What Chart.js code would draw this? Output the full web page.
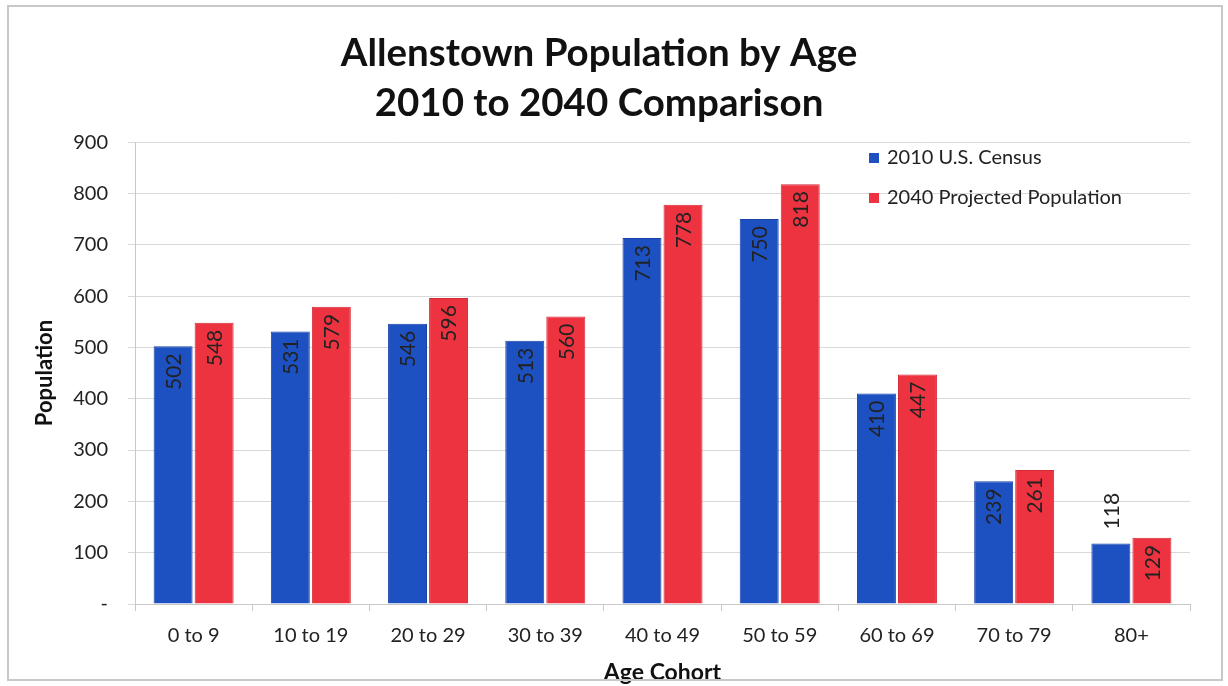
<!DOCTYPE html>
<html>
<head>
<meta charset="utf-8">
<script src="https://cdn.jsdelivr.net/npm/chart.js@4/dist/chart.umd.min.js"></script>
<style>
  html, body { margin: 0; padding: 0; background: #fff; }
  #wrap { position: relative; width: 1228px; height: 686px; }
  #frame { position: absolute; left: 7px; top: 5px; width: 1216px; height: 676px;
           border: 2px solid #c8c8c8; box-sizing: border-box; pointer-events: none; }
</style>
</head>
<body>
<div id="wrap">
  <canvas id="chart_age" width="1228" height="686"></canvas>
  <div id="frame"></div>
</div>
<script>
var ageCohorts = ["0 to 9", "10 to 19", "20 to 29", "30 to 39", "40 to 49", "50 to 59", "60 to 69", "70 to 79", "80+"];
var census2010 = [502, 531, 546, 513, 713, 750, 410, 239, 118];
var projected2040 = [548, 579, 596, 560, 778, 818, 447, 261, 129];
var seriesNames = ["2010 U.S. Census", "2040 Projected Population"];

var FONT = "Lato, 'Open Sans', sans-serif";

// value labels, rotated, sitting at the top of each bar (above it if the bar is too short)
const barValueLabels = {
  id: 'barValueLabels',
  afterDatasetsDraw(chart) {
    const ctx = chart.ctx;
    ctx.save();
    ctx.font = "21px " + FONT;
    ctx.fillStyle = '#222';
    ctx.textBaseline = 'middle';
    chart.data.datasets.forEach((ds, i) => {
      chart.getDatasetMeta(i).data.forEach((bar, j) => {
        const txt = String(ds.data[j]);
        const w = ctx.measureText(txt).width;
        const h = bar.base - bar.y;
        ctx.save();
        if (h < w + 26) {
          ctx.translate(bar.x, bar.y - 14);
          ctx.rotate(-Math.PI / 2);
          ctx.textAlign = 'left';
        } else {
          ctx.translate(bar.x, bar.y + 7);
          ctx.rotate(-Math.PI / 2);
          ctx.textAlign = 'right';
        }
        ctx.fillText(txt, 0, 1);
        ctx.restore();
      });
    });
    ctx.restore();
  }
};

// legend drawn inside the plot area, top right
const insideLegend = {
  id: 'insideLegend',
  afterDraw(chart) {
    const ctx = chart.ctx;
    ctx.save();
    ctx.font = "20px " + FONT;
    ctx.textBaseline = 'middle';
    chart.data.datasets.forEach((ds, i) => {
      const y = 158 + i * 40;
      ctx.fillStyle = ds.backgroundColor;
      ctx.fillRect(869, y - 5, 10, 10);
      ctx.fillStyle = '#222';
      ctx.textAlign = 'left';
      ctx.fillText(ds.label, 887, y);
    });
    ctx.restore();
  }
};

var ctx = document.getElementById("chart_age").getContext("2d");
var ageChart = new Chart(ctx, {
  type: 'bar',
  data: {
    labels: ageCohorts,
    datasets: [
      { label: seriesNames[0], data: census2010, backgroundColor: '#1d50c1', borderColor: '#1742a6', borderWidth: 1 },
      { label: seriesNames[1], data: projected2040, backgroundColor: '#ee3340', borderColor: '#d42a36', borderWidth: 1 }
    ]
  },
  options: {
    responsive: false,
    animation: false,
    categoryPercentage: 0.7,
    barPercentage: 0.95,
    layout: { padding: { left: 8, right: 38, top: 0, bottom: 0 } },
    plugins: {
      legend: { display: false },
      tooltip: { enabled: false },
      title: {
        display: true,
        text: ["Allenstown Population by Age", "2010 to 2040 Comparison"],
        color: '#111',
        font: { family: FONT, size: 38.5, weight: 'bold', lineHeight: 1.3 },
        padding: { top: 29, bottom: 13 }
      }
    },
    scales: {
      x: {
        grid: { drawOnChartArea: false, drawTicks: true, tickLength: 7, color: '#c8c8c8', offset: true },
        border: { display: true, color: '#c8c8c8' },
        ticks: { color: '#222', font: { family: FONT, size: 20 }, padding: 13 },
        title: { display: true, text: 'Age Cohort', color: '#111', font: { family: FONT, size: 23, weight: 'bold' }, padding: { top: 2, bottom: 0 } },
        afterFit: (scale) => { scale.height = 82; }
      },
      y: {
        min: 0,
        max: 900,
        ticks: {
          stepSize: 100,
          color: '#222',
          font: { family: FONT, size: 20 },
          padding: 20,
          callback: (v) => v === 0 ? '-' : v
        },
        grid: { color: '#d9d9d9', tickLength: 7 },
        border: { display: true, color: '#c8c8c8' },
        title: { display: true, text: 'Population', color: '#111', font: { family: FONT, size: 22, weight: 'bold' }, padding: { top: 24, bottom: 8 } },
        afterFit: (scale) => { scale.width = 127; }
      }
    }
  },
  plugins: [barValueLabels, insideLegend]
});
</script>
</body>
</html>
